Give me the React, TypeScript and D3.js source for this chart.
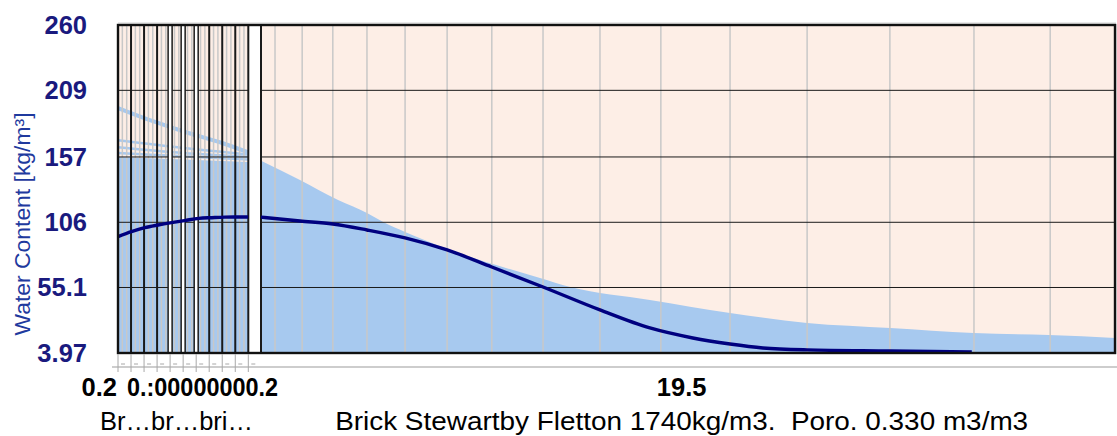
import React from "react";
import * as d3 from "d3";

// ---- value axis ----
const yTickValues = [260, 209, 157, 106, 55.1, 3.97];
const yTickLabels = ["260", "209", "157", "106", "55.1", "3.97"];
const yDomain: [number, number] = [3.97, 260];
const yTitle = "Water Content [kg/m³]";

// ---- construction: ten thin surface layers, one empty strip, then the brick ----
const thinLayerCount = 10;
const mainThickness = 19.5;
const doubledBoundaries = [4, 5, 6];
const thinElementFractions = [1 / 3, 2 / 3];
// element boundaries inside the brick (depth, same unit as its thickness)
const mainElementDepths = [0.32, 0.94, 1.64, 2.42, 3.29, 4.25, 5.27, 6.44, 7.74, 9.13, 10.71, 12.47, 14.36, 16.28, 18.02];

// ---- x labels ----
const thinTickLabelA = "0.2";
const thinTickLabelB = "0.:00000000.2";
const mainTickLabel = "19.5";
const thinLayerName = "Br…br…bri…";
const mainLayerName = "Brick Stewartby Fletton 1740kg/m3.  Poro. 0.330 m3/m3";

// ---- thin layers (position in layer units 0..10) ----
const thinEnvelopePos = [0, 2.85, 5.4, 8.0, 10];
const thinEnvelopeVal = [195.2, 184.3, 175.7, 167.9, 160.5];
const thinProfilePos = [0, 5, 10];
const thinProfileA = [170, 164, 159];
const thinProfileB = [164.5, 160, 157];
const thinProfileC = [160, 157.5, 155];
const thinFillVal = [157, 155, 153];
const thinCurrentPos = [0, 1.03, 2.05, 3.08, 4.1, 5.1, 6.2, 7.2, 8.2, 9.25, 10];
const thinCurrentVal = [94.8, 98.7, 101.8, 103.9, 105.7, 107.3, 109.1, 109.6, 110.0, 110.1, 110.1];

// ---- brick (depth 0..19.5) ----
const mainEnvelopeDepth = [0, 0.89, 1.76, 2.42, 2.79, 3.29, 4.32, 6.37, 7.06, 8.88, 10.71, 12.47, 14.37, 16.27, 17.99, 19.5];
const mainEnvelopeVal = [154, 139, 123.4, 113.3, 106.2, 98.4, 84.4, 62.5, 55.5, 45.4, 35.2, 27.4, 23.5, 19.6, 18.0, 15.7];
const mainCurrentDepth = [0, 0.89, 1.64, 2.42, 3.29, 4.25, 5.27, 6.44, 7.74, 8.88, 9.86, 10.71, 11.46, 12.47, 14.37, 16.23];
const mainCurrentVal = [110.0, 107.0, 104.7, 100.0, 93.8, 84.4, 71.1, 55.5, 37.6, 23.5, 15.7, 11.0, 7.9, 6.4, 5.6, 4.8];

const FONT = "'Liberation Sans', Arial, Helvetica, sans-serif";
const PINK = "#fdeee6";
const BLUE = "#a7c9ef";
const NAVY = "#00007f";
const GRID_GRAY = "#c8c8c8";
const DARK = "#1a1a1a";

type Pt = [number, number];
const zip = (xs: number[], vs: number[]): Pt[] => xs.map((p, i) => [p, vs[i]]);

export default function App() {
  const W = 1117;
  const H = 436;
  const left = 118;
  const right = 1115;
  const top = 25;
  const bottom = 353;
  const thinW = 13.03;
  const gapW = 12.7;
  const thinEnd = left + thinLayerCount * thinW;
  const mainStart = thinEnd + gapW;

  const x = d3
    .scaleLinear()
    .domain([0, thinLayerCount, thinLayerCount + 1, thinLayerCount + 2])
    .range([left, thinEnd, mainStart, right]);
  const depthToP = (d: number) => thinLayerCount + 1 + d / mainThickness;
  const y = d3.scaleLinear().domain(yDomain).range([bottom, top]);

  const line = d3
    .line<Pt>()
    .x((d) => x(d[0]))
    .y((d) => y(d[1]))
    .curve(d3.curveMonotoneX);
  const area = d3
    .area<Pt>()
    .x((d) => x(d[0]))
    .y0(bottom)
    .y1((d) => y(d[1]))
    .curve(d3.curveMonotoneX);

  const mainEnv = zip(mainEnvelopeDepth.map(depthToP), mainEnvelopeVal);
  const mainCur = zip(mainCurrentDepth.map(depthToP), mainCurrentVal);
  const thinEnv = zip(thinEnvelopePos, thinEnvelopeVal);
  const thinFill = zip(thinProfilePos, thinFillVal);
  const thinProfiles = [thinProfileA, thinProfileB, thinProfileC].map((v) => zip(thinProfilePos, v));
  const thinCur = zip(thinCurrentPos, thinCurrentVal);

  const thinBoundaries = d3.range(0, thinLayerCount + 1);
  const thinElementLines = d3.range(thinLayerCount).flatMap((i) => thinElementFractions.map((f) => i + f));

  const thinClip = "thin-clip";
  const mainClip = "main-clip";
  const mainLabelX = (x(thinLayerCount) + x(thinLayerCount + 2)) / 2;

  return (
    <svg width={W} height={H} style={{ position: "absolute", left: 0, top: 0, background: "#fff" }} fontFamily={FONT}>
      <defs>
        <clipPath id={thinClip}>
          <rect x={x(0)} y={top} width={x(thinLayerCount) - x(0)} height={bottom - top} />
        </clipPath>
        <clipPath id={mainClip}>
          <rect x={x(thinLayerCount + 1)} y={top} width={x(thinLayerCount + 2) - x(thinLayerCount + 1)} height={bottom - top} />
        </clipPath>
      </defs>

      {/* layer backgrounds */}
      <rect x={x(0)} y={top} width={x(thinLayerCount) - x(0)} height={bottom - top} fill={PINK} />
      <rect x={x(thinLayerCount + 1)} y={top} width={x(thinLayerCount + 2) - x(thinLayerCount + 1)} height={bottom - top} fill={PINK} />

      {/* moisture envelope, thin layers */}
      <g clipPath={`url(#${thinClip})`}>
        <path d={area(thinFill) ?? ""} fill={BLUE} />
        {thinProfiles.map((pr, i) => (
          <path key={i} d={line(pr) ?? ""} fill="none" stroke={BLUE} strokeWidth={2.5} />
        ))}
        <path d={line(thinEnv) ?? ""} fill="none" stroke={BLUE} strokeWidth={4} />
      </g>

      {/* moisture envelope, brick */}
      <g clipPath={`url(#${mainClip})`}>
        <path d={area(mainEnv) ?? ""} fill={BLUE} />
      </g>

      {/* element grid */}
      <g stroke={GRID_GRAY} strokeWidth={1.5}>
        {thinElementLines.map((p, i) => (
          <line key={`te${i}`} x1={x(p)} x2={x(p)} y1={top} y2={bottom} />
        ))}
        {mainElementDepths.map((d, i) => (
          <line key={`me${i}`} x1={x(depthToP(d))} x2={x(depthToP(d))} y1={top} y2={bottom} />
        ))}
      </g>

      {/* value grid */}
      <g stroke={DARK} strokeWidth={1}>
        {yTickValues.slice(1, -1).map((v, i) => (
          <g key={i}>
            <line x1={x(0)} x2={x(thinLayerCount)} y1={y(v)} y2={y(v)} />
            <line x1={x(thinLayerCount + 1)} x2={x(thinLayerCount + 2)} y1={y(v)} y2={y(v)} />
          </g>
        ))}
      </g>

      {/* layer boundaries */}
      <g stroke={DARK} strokeWidth={2}>
        {thinBoundaries.map((b) =>
          doubledBoundaries.includes(b) ? (
            <g key={b}>
              <rect x={x(b) - 2} y={top} width={4} height={bottom - top} fill="#fff" stroke="none" />
              <line x1={x(b) - 2} x2={x(b) - 2} y1={top} y2={bottom} strokeWidth={1.5} />
              <line x1={x(b) + 2} x2={x(b) + 2} y1={top} y2={bottom} strokeWidth={1.5} />
            </g>
          ) : (
            <line key={b} x1={x(b)} x2={x(b)} y1={top} y2={bottom} />
          )
        )}
        <line x1={x(thinLayerCount + 1)} x2={x(thinLayerCount + 1)} y1={top} y2={bottom} />
      </g>

      {/* current water content profile */}
      <g clipPath={`url(#${thinClip})`}>
        <path d={line(thinCur) ?? ""} fill="none" stroke={NAVY} strokeWidth={3.4} />
      </g>
      <g clipPath={`url(#${mainClip})`}>
        <path d={line(mainCur) ?? ""} fill="none" stroke={NAVY} strokeWidth={3.4} />
      </g>

      {/* frame */}
      <line x1={left} x2={right + 1} y1={top - 2} y2={top - 2} stroke="#d0d0d0" strokeWidth={1} />
      <line x1={right + 2} x2={right + 2} y1={top - 1} y2={bottom + 1} stroke="#d0d0d0" strokeWidth={1} />
      <rect x={left} y={top} width={right - left} height={bottom - top} fill="none" stroke="#111" strokeWidth={2.4} />

      {/* bottom position strip */}
      <line x1={x(0) - 6} x2={W} y1={367} y2={367} stroke="#bdbdbd" strokeWidth={1.5} />
      <g stroke="#a8a8a8" strokeWidth={1}>
        {thinBoundaries.map((b) => (
          <g key={b}>
            <line x1={x(b)} x2={x(b)} y1={bottom + 1} y2={bottom + 19} />
            <line x1={x(b) + 3} x2={x(b) + 7} y1={bottom + 11} y2={bottom + 11} />
          </g>
        ))}
      </g>

      {/* y ticks */}
      <g fill="#1a1a7e" fontWeight="bold" fontSize={25.5} textAnchor="end">
        {yTickValues.map((v, i) => (
          <text key={i} x={left - 31} y={y(v) + 9}>
            {yTickLabels[i]}
          </text>
        ))}
      </g>
      <text
        transform={`translate(30, 224) rotate(-90)`}
        textAnchor="middle"
        fontSize={22.5}
        fill="#1f3a9e"
        textLength={223}
        lengthAdjust="spacingAndGlyphs"
      >
        {yTitle}
      </text>

      {/* x labels */}
      <g fontWeight="bold" fontSize={25.5} fill="#000">
        <text x={x(0) - 1} y={396} textAnchor="end">
          {thinTickLabelA}
        </text>
        <text x={x(0) + 9} y={396} textLength={151} lengthAdjust="spacingAndGlyphs">
          {thinTickLabelB}
        </text>
        <text x={mainLabelX} y={396} textAnchor="middle">
          {mainTickLabel}
        </text>
      </g>
      <g fontSize={26} fill="#000">
        <text x={x(0) - 18} y={430} textLength={153} lengthAdjust="spacingAndGlyphs">
          {thinLayerName}
        </text>
        <text
          x={mainLabelX}
          y={430}
          textAnchor="middle"
          textLength={693}
          lengthAdjust="spacingAndGlyphs"
          style={{ whiteSpace: "pre" }}
        >
          {mainLayerName}
        </text>
      </g>
    </svg>
  );
}
